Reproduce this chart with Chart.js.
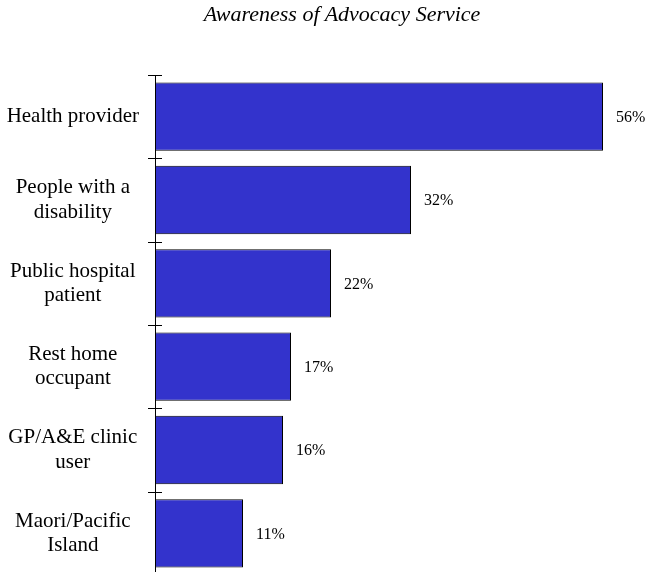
<!DOCTYPE html>
<html>
<head>
<meta charset="utf-8">
<script src="https://cdn.jsdelivr.net/npm/chart.js@4/dist/chart.umd.min.js"></script>
<style>
  html, body { margin: 0; padding: 0; background: #fff; overflow: hidden; }
  #wrap { position: relative; width: 651px; height: 580px; }
  #title {
    position: absolute; top: 1px; left: 0; width: 684px; text-align: center;
    font-family: "Liberation Serif", "DejaVu Serif", serif; font-style: italic; font-size: 22px; color: #000;
    line-height: 26px;
  }
  canvas { display: block; }
</style>
</head>
<body>
<div id="wrap">
  <canvas id="awareness" width="651" height="580"></canvas>
  <div id="title">Awareness of Advocacy Service</div>
</div>
<script>
// data
const categories = [
  ["Health provider"],
  ["People with a", "disability"],
  ["Public hospital", "patient"],
  ["Rest home", "occupant"],
  ["GP/A&E clinic", "user"],
  ["Maori/Pacific", "Island"]
];
const awareness = [56, 32, 22, 17, 16, 11];
const valueLabels = ["56%", "32%", "22%", "17%", "16%", "11%"];

// crossing tick marks on the category axis
const tickPlugin = {
  id: 'crossTicks',
  afterDraw(chart) {
    const yScale = chart.scales.y;
    const ctx = chart.ctx;
    const step = yScale.getPixelForValue(1) - yScale.getPixelForValue(0);
    const x = chart.chartArea.left;
    ctx.save();
    ctx.strokeStyle = '#000';
    ctx.lineWidth = 1;
    for (let i = 0; i <= categories.length; i++) {
      const y = Math.round(yScale.getPixelForValue(i) - step / 2) + 0.5;
      ctx.beginPath();
      ctx.moveTo(x - 7, y);
      ctx.lineTo(x + 7, y);
      ctx.stroke();
    }
    ctx.restore();
  }
};

// value labels right of bars
const labelPlugin = {
  id: 'valueLabels',
  afterDatasetsDraw(chart) {
    const ctx = chart.ctx;
    const meta = chart.getDatasetMeta(0);
    ctx.save();
    ctx.font = '16px "Liberation Serif"';
    ctx.fillStyle = '#000';
    ctx.textAlign = 'left';
    ctx.textBaseline = 'middle';
    meta.data.forEach((bar, i) => {
      ctx.fillText(valueLabels[i], bar.x + 13, bar.y + 1);
    });
    ctx.restore();
  }
};

const ctx = document.getElementById('awareness').getContext('2d');
const chart = new Chart(ctx, {
  type: 'bar',
  data: {
    labels: categories,
    datasets: [{
      data: awareness,
      backgroundColor: '#3333CC',
      borderColor: '#000',
      borderWidth: 1,
      borderSkipped: false,
      categoryPercentage: 1,
      barPercentage: 0.82
    }]
  },
  options: {
    indexAxis: 'y',
    responsive: false,
    animation: false,
    layout: { padding: { top: 75, right: 16, bottom: 5, left: 0 } },
    plugins: {
      legend: { display: false },
      tooltip: { enabled: false }
    },
    scales: {
      x: {
        display: false,
        min: 0,
        max: 60
      },
      y: {
        afterFit(scale) {
          scale.width = 155;
          scale.paddingTop = 0;
          scale.paddingBottom = 0;
        },
        border: { display: true, color: '#000', width: 1 },
        grid: { display: false, offset: true, drawTicks: false },
        ticks: {
          crossAlign: 'center',
          padding: 16,
          color: '#000',
          font: { family: 'Liberation Serif', size: 21, lineHeight: 1.15 }
        }
      }
    }
  },
  plugins: [tickPlugin, labelPlugin]
});
</script>
</body>
</html>
